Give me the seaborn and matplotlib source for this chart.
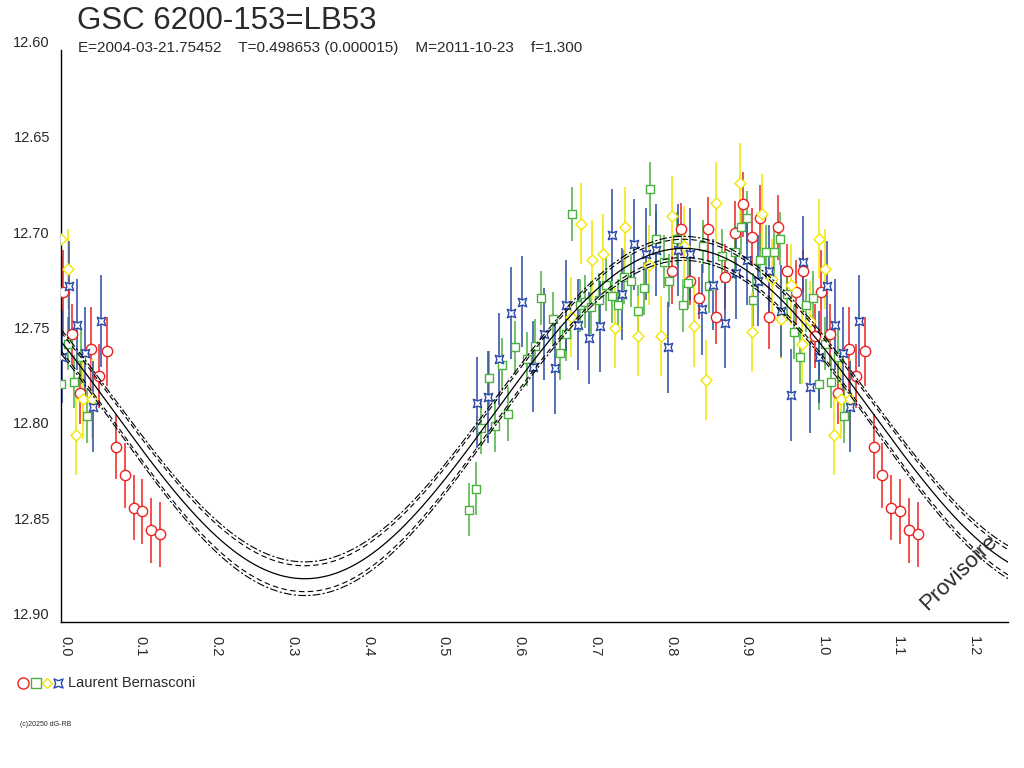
import numpy as np
import matplotlib
matplotlib.use("Agg")
import matplotlib.pyplot as plt
from matplotlib.path import Path
from matplotlib.lines import Line2D
import matplotlib.transforms as mtrans
import seaborn as sns

# ---------------- data (phase, magnitude, error) ----------------
red_phase = [0.003, 0.0145, 0.025, 0.040, 0.050, 0.061, 0.073, 0.084, 0.096, 0.107, 0.119, 0.131,
             0.807, 0.819, 0.830, 0.842, 0.854, 0.865, 0.876, 0.889, 0.900, 0.912, 0.923, 0.934,
             0.947, 0.958, 0.970, 0.980, 0.995]
red_mag = [12.727, 12.749, 12.780, 12.757, 12.771, 12.758, 12.808, 12.823, 12.840, 12.842, 12.852, 12.854,
           12.716, 12.694, 12.721, 12.730, 12.694, 12.740, 12.719, 12.696, 12.681, 12.698, 12.688, 12.740,
           12.693, 12.716, 12.727, 12.716, 12.750]
red_err = [0.022, 0.016, 0.016, 0.022, 0.017, 0.018, 0.017, 0.017, 0.017, 0.017, 0.017, 0.017,
           0.017, 0.014, 0.013, 0.011, 0.017, 0.014, 0.017, 0.017, 0.017, 0.015, 0.017, 0.017,
           0.017, 0.014, 0.017, 0.011, 0.017]

green_phase = [0.000, 0.009, 0.017, 0.026, 0.034, 0.538, 0.5475, 0.555, 0.565, 0.573, 0.582, 0.590,
               0.599, 0.615, 0.625, 0.633, 0.649, 0.658, 0.666, 0.675, 0.685, 0.691, 0.700, 0.710,
               0.719, 0.727, 0.735, 0.743, 0.753, 0.761, 0.769, 0.778, 0.786, 0.796, 0.803, 0.813,
               0.821, 0.828, 0.847, 0.855, 0.872, 0.889, 0.898, 0.906, 0.914, 0.923, 0.931, 0.941,
               0.949, 0.958, 0.967, 0.975, 0.983, 0.992]
green_mag = [12.775, 12.754, 12.774, 12.761, 12.792, 12.841, 12.830, 12.798, 12.772, 12.797, 12.765, 12.791,
             12.756, 12.762, 12.755, 12.730, 12.741, 12.759, 12.749, 12.686, 12.734, 12.732, 12.735, 12.731,
             12.723, 12.729, 12.734, 12.719, 12.721, 12.737, 12.725, 12.673, 12.699, 12.711, 12.721, 12.699,
             12.734, 12.722, 12.703, 12.724, 12.708, 12.706, 12.693, 12.688, 12.731, 12.710, 12.706, 12.706,
             12.699, 12.728, 12.748, 12.761, 12.734, 12.730]
green_err = [0.014] * len(green_phase)

yellow_phase = [0.000, 0.009, 0.020, 0.029, 0.041, 0.673, 0.686, 0.7005, 0.716, 0.731, 0.745, 0.761,
                0.776, 0.792, 0.806, 0.822, 0.836, 0.851, 0.865, 0.896, 0.912, 0.925, 0.939, 0.951,
                0.964, 0.978, 0.989]
yellow_mag = [12.699, 12.715, 12.802, 12.783, 12.783, 12.740, 12.691, 12.710, 12.707, 12.746, 12.693, 12.750,
              12.713, 12.750, 12.687, 12.703, 12.745, 12.773, 12.680, 12.670, 12.748, 12.686, 12.720, 12.741,
              12.723, 12.754, 12.742]
yellow_err = [0.021] * len(yellow_phase)

blue_phase = [0.001, 0.0106, 0.021, 0.032, 0.042, 0.053, 0.549, 0.563, 0.578, 0.594, 0.608, 0.623,
              0.637, 0.652, 0.666, 0.682, 0.697, 0.712, 0.727, 0.741, 0.756, 0.772, 0.786, 0.801,
              0.815, 0.830, 0.846, 0.860, 0.876, 0.8905, 0.905, 0.9195, 0.934, 0.951, 0.964, 0.979,
              0.989]
blue_mag = [12.761, 12.724, 12.744, 12.759, 12.787, 12.742, 12.785, 12.782, 12.762, 12.738, 12.732, 12.766,
            12.749, 12.767, 12.734, 12.744, 12.751, 12.745, 12.697, 12.728, 12.702, 12.707, 12.705, 12.756,
            12.705, 12.707, 12.736, 12.723, 12.743, 12.717, 12.710, 12.721, 12.716, 12.737, 12.781, 12.711,
            12.777]
blue_err = [0.024] * len(blue_phase)

observer = "Laurent Bernasconi"
title = "GSC 6200-153=LB53"
subtitle = "E=2004-03-21.75452    T=0.498653 (0.000015)    M=2011-10-23    f=1.300"
footer = "(c)20250 dG-RB"
stamp = "Provisoire"
y_ticks = [12.60, 12.65, 12.70, 12.75, 12.80, 12.85, 12.90]
x_major = [0.0, 0.1, 0.2, 0.3, 0.4, 0.5, 0.6, 0.7, 0.8, 0.9, 1.0, 1.1, 1.2]
x_max = 1.25

# ---------------- style ----------------
sns.set_theme(style="white")
plt.rcParams['font.family'] = ['Liberation Sans', 'DejaVu Sans']
TXT = '#2a2a2a'

fig = plt.figure(figsize=(10.24, 7.68), dpi=100)
ax = fig.add_axes([61 / 1024, 1 - 622 / 768, (1008 - 61) / 1024, (622 - 50) / 768])

star_path = Path([(1, 1), (0, 0.62), (-1, 1), (-0.62, 0), (-1, -1), (0, -0.62), (1, -1), (0.62, 0), (1, 1)],
                 [Path.MOVETO] + [Path.LINETO] * 7 + [Path.CLOSEPOLY])

groups = [
    (red_phase, red_mag, red_err, '#ee2020', 'o', 55),
    (green_phase, green_mag, green_err, '#4cb040', 's', 40),
    (yellow_phase, yellow_mag, yellow_err, '#f2e600', 'D', 32),
    (blue_phase, blue_mag, blue_err, '#2a48a8', star_path, 36),
]

# ---------------- fit (weighted least squares sine, period 1) ----------------
all_p = np.concatenate([np.asarray(g[0]) for g in groups])
all_m = np.concatenate([np.asarray(g[1]) for g in groups])
all_e = np.concatenate([np.asarray(g[2]) for g in groups])
w = 1.0 / all_e ** 2
X = np.column_stack([np.ones_like(all_p), np.cos(2 * np.pi * all_p), np.sin(2 * np.pi * all_p)])
XtW = X.T * w
cov = np.linalg.inv(XtW @ X)
coef = cov @ (XtW @ all_m)
resid = all_m - X @ coef
chi2r = np.sum(w * resid ** 2) / (len(all_m) - 3)
cov = cov * chi2r

ph = np.linspace(0, x_max, 700)
Xc = np.column_stack([np.ones_like(ph), np.cos(2 * np.pi * ph), np.sin(2 * np.pi * ph)])
fit = Xc @ coef
se = np.sqrt(np.einsum('ij,jk,ik->i', Xc, cov, Xc))

sns.lineplot(x=ph, y=fit, ax=ax, color='black', lw=0.9, zorder=4)
for base, k, dash in [(0.0038, 0.36, (5, 3)), (0.0051, 0.45, (7, 2, 2, 2))]:
    band = base + k * se
    for sgn in (1, -1):
        ax.plot(ph, fit + sgn * band, color='black', lw=0.8, dashes=dash, zorder=4)

# ---------------- points ----------------
for p, m, e, col, mk, sz in groups:
    p = np.asarray(p); m = np.asarray(m); e = np.asarray(e)
    rep = p < (x_max - 1)
    pp = np.concatenate([p, p[rep] + 1])
    mm = np.concatenate([m, m[rep]])
    ee = np.concatenate([e, e[rep]])
    ax.errorbar(pp, mm, yerr=ee, fmt='none', ecolor=col, elinewidth=1.1, capsize=0, zorder=2)
    sns.scatterplot(x=pp, y=mm, ax=ax, marker=mk, s=sz, facecolor='white', edgecolor=col,
                    linewidth=1.0, zorder=3, legend=False)

# ---------------- axes ----------------
ax.set_xlim(0, x_max)
ax.set_ylim(y_ticks[-1], y_ticks[0])
ax.set_yticks(y_ticks)
ax.set_yticklabels([f"{v:.2f}" for v in y_ticks], va='bottom', color=TXT, fontsize=10.5)
ax.set_xticks(x_major)
ax.set_xticks(np.arange(0.05, x_max, 0.1), minor=True)
ax.set_xticklabels([f"{v:.1f}" for v in x_major], rotation=-90, color=TXT, fontsize=10.5,
                   ha='left', va='top')
ax.tick_params(axis='y', direction='out', length=8, width=0.8, pad=0, colors='black', labelcolor=TXT)
ax.tick_params(axis='x', which='both', direction='out', length=8, width=0.8, pad=2, colors='black',
               labelcolor=TXT)
ax.set_xlabel(''); ax.set_ylabel('')
for s in ['top', 'right']:
    ax.spines[s].set_visible(False)
for s in ['left', 'bottom']:
    ax.spines[s].set_color('black')
    ax.spines[s].set_linewidth(1.0)
ax.set_facecolor('white')
ax.grid(False)

offset = mtrans.ScaledTranslation(-3 / 100, 0, fig.dpi_scale_trans)
for lab in ax.get_xticklabels():
    lab.set_transform(lab.get_transform() + offset)

ax.text(1.185, 12.874, stamp, rotation=44, ha='center', va='center', fontsize=16, color=TXT, zorder=5)

# ---------------- header / footer ----------------
fig.text(77 / 1024, 1 - 21 / 768, title, fontsize=22.5, color=TXT, va='center', ha='left')
fig.text(78 / 1024, 1 - 48 / 768, subtitle, fontsize=11, color=TXT, va='center', ha='left')

leg_y = 1 - 683 / 768
leg_items = [(23, 'o', '#ee2020', 8), (36, 's', '#4cb040', 6.5), (47, 'D', '#f2e600', 5.5),
             (58, star_path, '#2a48a8', 6.5)]
for xpx, mk, col, ms in leg_items:
    fig.add_artist(Line2D([xpx / 1024], [leg_y], marker=mk, markersize=ms, markerfacecolor='white',
                          markeredgecolor=col, markeredgewidth=1.0, linestyle='none',
                          transform=fig.transFigure))
fig.text(68 / 1024, leg_y, observer, fontsize=10.5, color=TXT, va='center', ha='left')
fig.text(20 / 1024, 1 - 725 / 768, footer, fontsize=5, color=TXT, va='center', ha='left')

fig.savefig('out.png', dpi=100, facecolor='white')
